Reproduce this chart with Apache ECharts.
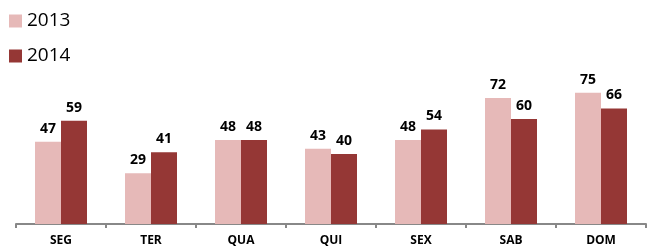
<!DOCTYPE html>
<html>
<head>
<meta charset="utf-8">
<script src="https://cdn.jsdelivr.net/npm/echarts@6/dist/echarts.min.js"></script>
<style>
  html, body { margin: 0; padding: 0; background: #fff; }
  #chart { width: 647px; height: 248px; }
</style>
</head>
<body>
<div id="chart"></div>
<script>
const days = ["SEG", "TER", "QUA", "QUI", "SEX", "SAB", "DOM"];
const values2013 = [47, 29, 48, 43, 48, 72, 75];
const values2014 = [59, 41, 48, 40, 54, 60, 66];

const labelStyle = {
  show: true,
  position: "top",
  distance: 6,
  color: "#000",
  fontSize: 14,
  fontWeight: "bold",
  fontFamily: "Open Sans"
};

const chart = echarts.init(document.getElementById("chart"));
chart.setOption({
  animation: false,
  legend: {
    orient: "vertical",
    left: 9,
    top: 11,
    padding: 0,
    itemWidth: 13,
    itemHeight: 13,
    itemGap: 15,
    icon: "rect",
    textStyle: { fontSize: 19, lineHeight: 20, color: "#000", fontFamily: "Open Sans" },
    data: ["2013", "2014"]
  },
  grid: { left: 16, right: 1, top: 49, bottom: 24 },
  xAxis: {
    type: "category",
    data: days,
    axisLine: { lineStyle: { color: "#888", width: 2 } },
    axisTick: { show: true, length: 4, lineStyle: { color: "#888", width: 2 } },
    axisLabel: { color: "#000", fontSize: 12, fontWeight: "bold", fontFamily: "Open Sans", margin: 11 }
  },
  yAxis: {
    type: "value",
    min: 0,
    max: 100,
    show: false,
    splitLine: { show: false }
  },
  series: [
    {
      name: "2013",
      type: "bar",
      data: values2013,
      barWidth: 26,
      barGap: "0%",
      itemStyle: { color: "#E6B9B8" },
      label: labelStyle
    },
    {
      name: "2014",
      type: "bar",
      data: values2014,
      barWidth: 26,
      itemStyle: { color: "#953735" },
      label: labelStyle
    }
  ]
});
</script>
</body>
</html>
